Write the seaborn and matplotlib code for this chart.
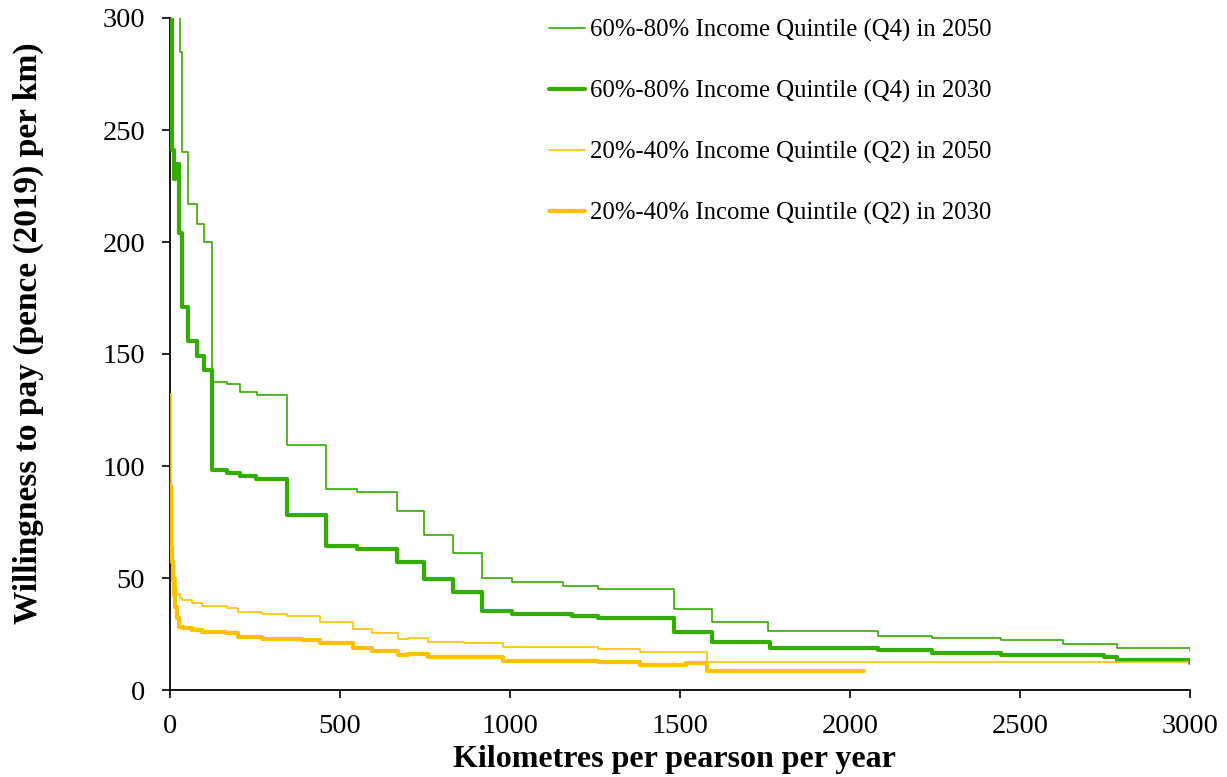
import matplotlib
matplotlib.use("Agg")
import matplotlib.pyplot as plt
import seaborn as sns
import numpy as np

# ---- data ----
q4_2050_km = [10, 29, 34, 52, 79, 101, 123, 167, 205, 256, 345, 458, 549, 667, 748,
              832, 917, 1007, 1157, 1260, 1483, 1594, 1760, 2081, 2242, 2443, 2627, 2785, 3000]
q4_2050_wtp = [350, 285, 240, 217, 208, 200, 137.6, 136.5, 133, 131.7, 109.4, 89.7, 88.5, 80, 69,
               61, 50, 48, 46.4, 45, 36.2, 30.4, 26.5, 24, 23.4, 22.3, 20.5, 18.9, 17.5]

q4_2030_km = [0, 7, 12, 15, 27, 34, 52, 79, 101, 123, 167, 205, 254, 345, 458, 549, 667, 748,
              832, 917, 1007, 1181, 1260, 1483, 1594, 1765, 2081, 2242, 2443, 2747, 2785, 3000]
q4_2030_wtp = [400, 241, 228, 235, 204, 171, 156, 149, 143, 98.2, 97, 95.5, 94.2, 78.1, 64.3, 63.1,
               57.3, 49.4, 43.6, 35.3, 33.8, 33, 32, 25.8, 21.6, 18.9, 17.9, 16.4, 15.8, 14.6, 13.4, 12.2]

q2_2050_km = [0, 2, 4, 7, 10, 13, 17, 22, 28, 34, 64, 94, 167, 199, 271, 343, 440, 538, 594,
              672, 699, 758, 866, 979, 1260, 1381, 1579, 2995]
q2_2050_wtp = [132, 90, 70, 60, 52, 50, 46, 43, 41, 40, 38.7, 37.5, 36.4, 34.7, 33.8, 33, 30.2,
               27.2, 25.3, 22.6, 23.4, 21.6, 20.8, 19.3, 18.3, 17.1, 12.4, 12.4]

q2_2030_km = [0, 2, 4, 6, 8, 10, 13, 16, 20, 26, 39, 64, 94, 165, 199, 271, 389, 440, 538, 594,
              672, 699, 758, 979, 1260, 1381, 1518, 1579, 2040]
q2_2030_wtp = [91, 75, 64, 57, 52, 49, 42, 37, 32, 28.3, 27.6, 26.8, 26.1, 25.3, 23.8, 22.6, 22.3,
               20.8, 18.9, 17.4, 15.6, 15.9, 14.9, 13.1, 12.5, 11.2, 11.9, 8.5, 8.5]

series_labels = ["60%-80% Income Quintile (Q4) in 2050",
                 "60%-80% Income Quintile (Q4) in 2030",
                 "20%-40% Income Quintile (Q2) in 2050",
                 "20%-40% Income Quintile (Q2) in 2030"]

x_ticks = [0, 500, 1000, 1500, 2000, 2500, 3000]
y_ticks = [0, 50, 100, 150, 200, 250, 300]

# ---- styling ----
sns.set_style("ticks")
plt.rcParams["font.family"] = ["Liberation Serif", "DejaVu Serif"]
plt.rcParams["text.color"] = "black"

GREEN = "#33AD00"
GOLD = "#FFC000"

fig = plt.figure(figsize=(12.27, 7.77), dpi=100)
ax = fig.add_axes([170 / 1227, 87 / 777, 1020 / 1227, 672 / 777])

series = [
    (q4_2050_km, q4_2050_wtp, GREEN, 1.2),
    (q4_2030_km, q4_2030_wtp, GREEN, 3.0),
    (q2_2050_km, q2_2050_wtp, GOLD, 1.2),
    (q2_2030_km, q2_2030_wtp, GOLD, 3.0),
]
for (xs, ys, col, lw), lab in zip(series, series_labels):
    sns.lineplot(x=xs, y=ys, ax=ax, color=col, linewidth=lw, label=lab,
                 drawstyle="steps-post", estimator=None, sort=False, zorder=3)

ax.set_xlim(0, 3000)
ax.set_ylim(0, 300)
ax.set_xticks(x_ticks)
ax.set_yticks(y_ticks)

for s in ["top", "right"]:
    ax.spines[s].set_visible(False)
for s in ["left", "bottom"]:
    ax.spines[s].set_color("black")
    ax.spines[s].set_linewidth(1.3)

ax.tick_params(axis="both", direction="out", length=6, width=1.2, colors="black",
               labelsize=20.5, labelcolor="black")
ax.tick_params(axis="y", pad=12)
ax.tick_params(axis="x", pad=11)

ax.set_xlabel("Kilometres per pearson per year", fontsize=23, fontweight="bold", color="black")
ax.set_ylabel("Willingness to pay (pence (2019) per km)", fontsize=24, fontweight="bold", color="black")
ax.xaxis.label.set_va("center")
ax.xaxis.set_label_coords(0.495, -0.103)
ax.yaxis.label.set_va("center")
ax.yaxis.set_label_coords(-0.139, 0.531)

leg = ax.legend(loc="upper left", bbox_to_anchor=(0.372, 0.998), frameon=False, fontsize=17.8,
                handlelength=1.45, handletextpad=0.2, labelspacing=1.53,
                borderaxespad=0, borderpad=0, labelcolor="black")

fig.savefig("out.png", dpi=100)
